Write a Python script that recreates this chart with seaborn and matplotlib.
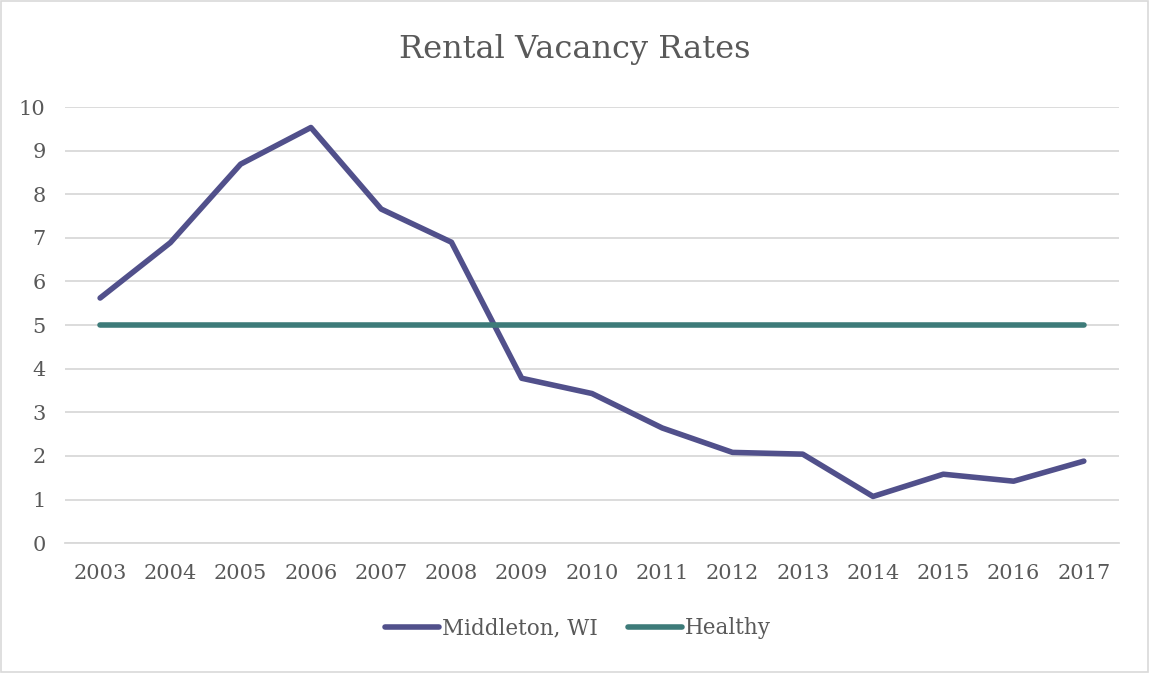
import pandas as pd
import matplotlib.pyplot as plt
import seaborn as sns

# data
years = ["2003", "2004", "2005", "2006", "2007", "2008", "2009", "2010",
         "2011", "2012", "2013", "2014", "2015", "2016", "2017"]
middleton = [5.62, 6.89, 8.69, 9.53, 7.66, 6.90, 3.78, 3.43,
             2.64, 2.08, 2.04, 1.07, 1.58, 1.42, 1.88]
healthy = [5] * len(years)

df = pd.DataFrame({"year": years * 2,
                   "rate": middleton + healthy,
                   "series": ["Middleton, WI"] * len(years) + ["Healthy"] * len(years)})

sns.set_style("white")
plt.rcParams["font.family"] = ["DejaVu Serif"]

text_col = "#595959"
fig = plt.figure(figsize=(11.5, 6.73), dpi=100)
ax = fig.add_axes([0.0565, 0.193, 0.9165, 0.648])

sns.lineplot(data=df, x="year", y="rate", hue="series",
             palette={"Middleton, WI": "#51508B", "Healthy": "#3D7B79"},
             linewidth=4, ax=ax, sort=False)
for line in ax.lines:
    line.set_solid_capstyle("round")

ax.set_xlim(-0.5, len(years) - 0.5)
ax.set_ylim(0, 10)
ax.set_yticks(range(0, 11))
ax.grid(axis="y", color="#D9D9D9", linewidth=1.3)
ax.set_axisbelow(True)
for s in ["top", "right", "left"]:
    ax.spines[s].set_visible(False)
ax.spines["bottom"].set_color("#D9D9D9")
ax.spines["bottom"].set_linewidth(1.3)
ax.tick_params(axis="both", length=0, labelsize=15, colors=text_col)
ax.tick_params(axis="x", pad=15)
ax.tick_params(axis="y", pad=14)
ax.set_xlabel("")
ax.set_ylabel("")

fig.suptitle("Rental Vacancy Rates", y=0.95, fontsize=23, color=text_col)

leg = ax.legend(loc="center", bbox_to_anchor=(0.487, -0.195), ncol=2, frameon=False,
                fontsize=15.5, handlelength=2.5, handletextpad=0.15, columnspacing=1.4)
for t in leg.get_texts():
    t.set_color(text_col)
for h in leg.get_lines():
    h.set_linewidth(4)
    h.set_solid_capstyle("round")

fig.patches.append(plt.Rectangle((0.001, 0.001), 0.997, 0.997, transform=fig.transFigure,
                                 fill=False, edgecolor="#D9D9D9", linewidth=1.2))

plt.savefig("out.png", dpi=100)
